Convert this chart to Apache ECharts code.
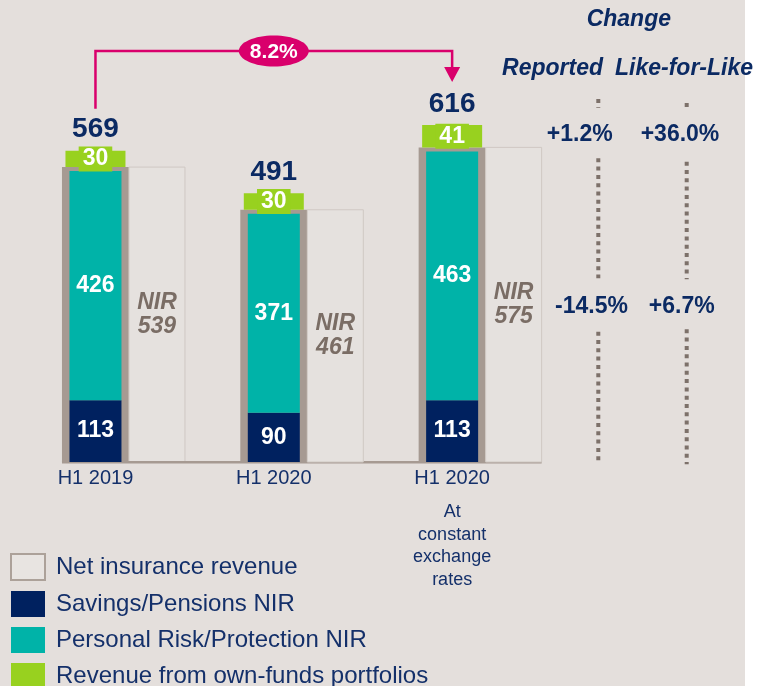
<!DOCTYPE html>
<html>
<head>
<meta charset="utf-8">
<script src="https://cdn.jsdelivr.net/npm/echarts@6/dist/echarts.min.js"></script>
<style>
  html, body { margin: 0; padding: 0; background: #fff; }
  #main { width: 759px; height: 686px; }
</style>
</head>
<body>
<div id="main"></div>
<script>
// data
const categories = ['H1 2019', 'H1 2020', 'H1 2020'];
const categoryNotes = ['', '', 'At\nconstant\nexchange\nrates'];
const savingsNir = [113, 90, 113];
const protectionNir = [426, 371, 463];
const ownFunds = [30, 30, 41];
const netInsuranceRevenue = [539, 461, 575];
const totalRevenue = [569, 491, 616];
const growthLabel = '8.2%';
const changeReported = ['+1.2%', '-14.5%'];
const changeLikeForLike = ['+36.0%', '+6.7%'];

const FONT = "'Liberation Sans', Arial, sans-serif";
const NAVY = '#00215f';
const TEAL = '#00b3a8';
const GREEN = '#98d11f';
const FRAME = '#a69a92';
const NIR_TEXT = '#7a6d65';
const TEXT_NAVY = '#14306a';
const MAGENTA = '#d9006c';
const BG = '#e4dfdc';

let chart = echarts.init(document.getElementById('main'));

// rect between two values of a category, with pixel offsets from the band centre
function barRect(api, idx, from, to, left, right) {
  let a = api.coord([idx, from]);
  let b = api.coord([idx, to]);
  return { x: a[0] + left, y: b[1], width: right - left, height: a[1] - b[1] };
}

function centreText(x, y, text, font, fill, extra) {
  return {
    type: 'text', x: x, y: y,
    style: Object.assign({
      text: text, font: font, fill: fill,
      align: 'center', verticalAlign: 'middle',
      textAlign: 'center', textVerticalAlign: 'middle'
    }, extra || {})
  };
}

let series = [{
  type: 'custom',
  name: 'frame',
  data: categories.map((c, i) => [i, netInsuranceRevenue[i]]),
  renderItem(params, api) {
    let i = api.value(0);
    return {
      type: 'rect',
      shape: barRect(api, i, 0, api.value(1), -33.5, 33.5),
      style: { fill: FRAME }
    };
  }
}, {
  type: 'custom',
  name: 'Net insurance revenue',
  data: categories.map((c, i) => [i, netInsuranceRevenue[i]]),
  renderItem(params, api) {
    let i = api.value(0);
    let r = barRect(api, i, 0, api.value(1), 33.5, 89.5);
    let children = [{
      type: 'rect', shape: r,
      style: { fill: '#e5e1de', stroke: '#cfc8c3', lineWidth: 1 }
    }, centreText(r.x + r.width / 2, r.y + r.height / 2, 'NIR\n' + api.value(1),
      'italic bold 23px ' + FONT, NIR_TEXT, { lineHeight: 24 })];
    if (params.dataIndex === 0) {
      let a = api.coord([0, 0]);
      let b = api.coord([categories.length - 1, 0]);
      children.push({
        type: 'line',
        shape: { x1: a[0] - 33.5, y1: a[1] + 0.3, x2: b[0] + 89.5, y2: b[1] + 0.3 },
        style: { stroke: FRAME, lineWidth: 2.5 }
      });
    }
    return { type: 'group', children: children };
  }
}, {
  type: 'custom',
  name: 'Savings/Pensions NIR',
  data: categories.map((c, i) => [i, savingsNir[i]]),
  renderItem(params, api) {
    let i = api.value(0);
    let r = barRect(api, i, 0, api.value(1), -26, 26);
    return {
      type: 'group',
      children: [
        { type: 'rect', shape: r, style: { fill: NAVY } },
        centreText(r.x + r.width / 2, r.y + r.height / 2, String(api.value(1)), 'bold 23px ' + FONT, '#fff')
      ]
    };
  }
}, {
  type: 'custom',
  name: 'Personal Risk/Protection NIR',
  data: categories.map((c, i) => [i, savingsNir[i], netInsuranceRevenue[i], protectionNir[i]]),
  renderItem(params, api) {
    let i = api.value(0);
    let r = barRect(api, i, api.value(1), api.value(2), -26, 26);
    r.y += 4;
    r.height -= 4;
    return {
      type: 'group',
      children: [
        { type: 'rect', shape: r, style: { fill: TEAL } },
        centreText(r.x + r.width / 2, r.y + r.height / 2, String(api.value(3)), 'bold 23px ' + FONT, '#fff')
      ]
    };
  }
}, {
  type: 'custom',
  name: 'Revenue from own-funds portfolios',
  data: categories.map((c, i) => [i, netInsuranceRevenue[i], totalRevenue[i], ownFunds[i]]),
  renderItem(params, api) {
    let i = api.value(0);
    let r = barRect(api, i, api.value(1), api.value(2), -30, 30);
    let cx = r.x + r.width / 2;
    return {
      type: 'group',
      children: [
        { type: 'rect', shape: r, style: { fill: GREEN } },
        centreText(cx, r.y + r.height / 2, String(api.value(3)), 'bold 23px ' + FONT, '#fff',
          { backgroundColor: GREEN, padding: [1, 4, 1, 4], lineHeight: 23 }),
        centreText(cx, r.y - 21, String(api.value(2)), 'bold 28px ' + FONT, '#0b2a63')
      ]
    };
  }
}, {
  // growth bracket between first and last total
  type: 'custom',
  name: 'growth',
  data: [[0, totalRevenue[0], categories.length - 1, totalRevenue[categories.length - 1]]],
  renderItem(params, api) {
    let p0 = api.coord([api.value(0), api.value(1)]);
    let p2 = api.coord([api.value(2), api.value(3)]);
    let yTop = Math.min(p0[1], p2[1]) - 74;
    let tip = p2[1] - 43;
    let mid = (p0[0] + p2[0]) / 2;
    return {
      type: 'group',
      children: [{
        type: 'polyline',
        shape: { points: [[p0[0], p0[1] - 42], [p0[0], yTop], [p2[0], yTop], [p2[0], tip - 12]] },
        style: { stroke: MAGENTA, lineWidth: 2.5, fill: null }
      }, {
        type: 'polygon',
        shape: { points: [[p2[0] - 8, tip - 15], [p2[0] + 8, tip - 15], [p2[0], tip]] },
        style: { fill: MAGENTA }
      }, {
        type: 'ellipse',
        shape: { cx: mid, cy: yTop, rx: 35, ry: 15.5 },
        style: { fill: MAGENTA }
      }, centreText(mid, yTop + 1, growthLabel, 'bold 21px ' + FONT, '#fff')]
    };
  }
}];

// dotted separators in the change columns
function dots(x, y1, y2) {
  return {
    type: 'line', silent: true,
    shape: { x1: x, y1: y1, x2: x, y2: y2 },
    style: { stroke: '#7d716a', lineWidth: 4, lineDash: [4, 4.3] }
  };
}

function gText(x, y, text, font, align) {
  return {
    type: 'text', x: x, y: y, silent: true,
    style: {
      text: text, font: font, fill: '#0b2a63',
      align: align, verticalAlign: 'middle',
      textAlign: align, textVerticalAlign: 'middle'
    }
  };
}

let graphic = [
  { type: 'rect', shape: { x: 745, y: 0, width: 14, height: 686 }, style: { fill: '#fff' }, silent: true },
  gText(628.8, 20, 'Change', 'italic bold 23px ' + FONT, 'center'),
  gText(603, 69, 'Reported', 'italic bold 23px ' + FONT, 'right'),
  gText(615, 69, 'Like-for-Like', 'italic bold 23px ' + FONT, 'left'),
  gText(579.7, 135, changeReported[0], 'bold 23px ' + FONT, 'center'),
  gText(680, 135, changeLikeForLike[0], 'bold 23px ' + FONT, 'center'),
  gText(555, 306.7, changeReported[1], 'bold 23px ' + FONT, 'left'),
  gText(681.8, 306.7, changeLikeForLike[1], 'bold 23px ' + FONT, 'center'),
  dots(598.3, 99, 108), dots(598.3, 158.3, 278.3), dots(598.3, 331.7, 461.7),
  dots(686.7, 103, 107), dots(686.7, 161.7, 279.3), dots(686.7, 329.3, 464.3)
];

let option = {
  backgroundColor: BG,
  animation: false,
  grid: { left: 6.3, width: 535, top: 79, height: 383 },
  xAxis: {
    type: 'category',
    data: categories,
    axisLine: { show: false },
    axisTick: { show: false },
    splitLine: { show: false },
    axisLabel: {
      margin: 4,
      interval: 0,
      formatter: function (value, index) {
        let s = '{cat|' + value + '}';
        if (categoryNotes[index]) {
          s += '\n{gap| }\n' + categoryNotes[index].split('\n').map(t => '{note|' + t + '}').join('\n');
        }
        return s;
      },
      rich: {
        cat: { fontSize: 20, lineHeight: 24, color: TEXT_NAVY, fontFamily: FONT },
        gap: { fontSize: 1, lineHeight: 11 },
        note: { fontSize: 18, lineHeight: 22.5, color: TEXT_NAVY, fontFamily: FONT }
      }
    }
  },
  yAxis: { type: 'value', min: 0, max: 700, show: false },
  legend: {
    orient: 'vertical',
    left: 10,
    top: 553,
    width: 500,
    height: 200,
    padding: 0,
    itemWidth: 34,
    itemHeight: 26,
    itemGap: 10,
    selectedMode: false,
    textStyle: { fontSize: 24, color: TEXT_NAVY, fontFamily: FONT, padding: [0, 0, 0, 6] },
    data: [
      { name: 'Net insurance revenue', icon: 'rect', itemStyle: { color: '#e8e4e1', borderColor: '#aca199', borderWidth: 2 } },
      { name: 'Savings/Pensions NIR', icon: 'rect', itemStyle: { color: NAVY } },
      { name: 'Personal Risk/Protection NIR', icon: 'rect', itemStyle: { color: TEAL } },
      { name: 'Revenue from own-funds portfolios', icon: 'rect', itemStyle: { color: GREEN } }
    ]
  },
  graphic: graphic,
  series: series
};

chart.setOption(option);
</script>
</body>
</html>
